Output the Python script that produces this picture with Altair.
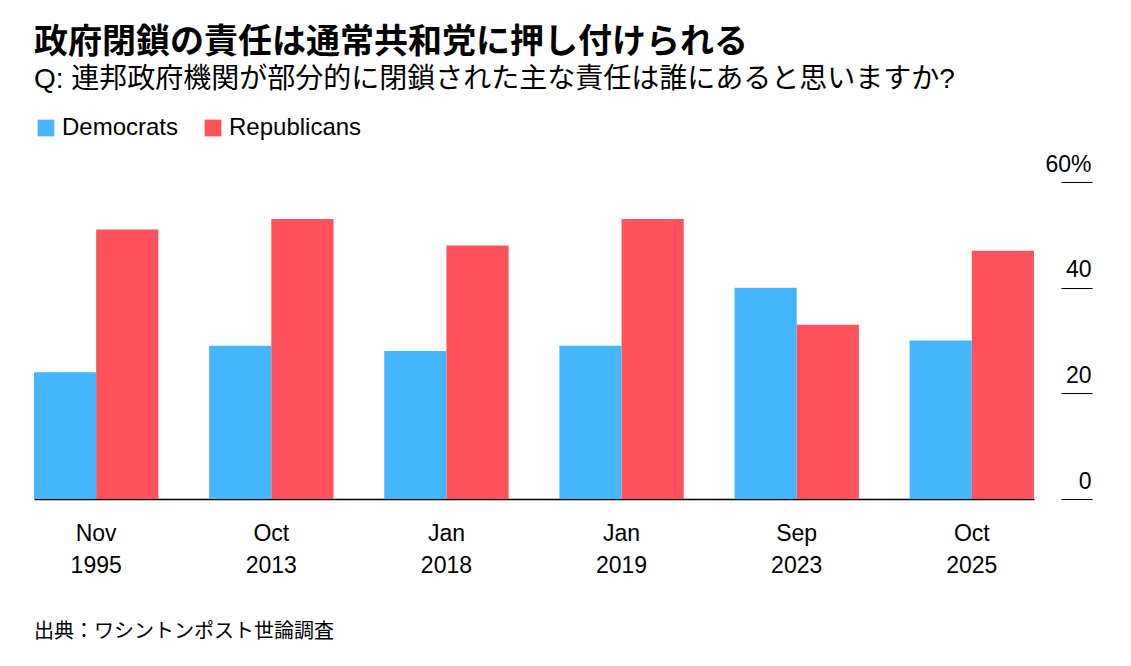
import pandas as pd
import altair as alt

periods = ["Nov 1995", "Oct 2013", "Jan 2018", "Jan 2019", "Sep 2023", "Oct 2025"]
democrats = [24, 29, 28, 29, 40, 30]
republicans = [51, 53, 48, 53, 33, 47]

df = pd.DataFrame({
    "period": periods * 2,
    "party": ["Democrats"] * 6 + ["Republicans"] * 6,
    "pct": democrats + republicans,
})

FONT = "Noto Sans CJK JP"
LATIN = "Liberation Sans, Noto Sans CJK JP"

bars = alt.Chart(df).mark_bar().encode(
    x=alt.X("period:N", sort=periods, title=None,
            scale=alt.Scale(paddingInner=0.29, paddingOuter=0),
            axis=alt.Axis(labelExpr="split(datum.label, ' ')", labelAngle=0,
                          labelFontSize=23, labelColor="#000", labelFont=LATIN,
                          domainColor="#000", domainWidth=1.5, ticks=False,
                          labelPadding=23, labelLineHeight=32)),
    xOffset=alt.XOffset("party:N"),
    y=alt.Y("pct:Q", title=None, scale=alt.Scale(domain=[0, 60]),
            axis=alt.Axis(orient="right", values=[0, 20, 40, 60], grid=False, domain=False,
                          offset=27, tickSize=31, tickColor="#000",
                          labelAlign="right", labelBaseline="bottom", labelPadding=-1,
                          labelOffset=-6, labelFontSize=23, labelColor="#000", labelFont=LATIN,
                          labelExpr="datum.value == 60 ? '60%' : datum.label")),
    color=alt.Color("party:N", title=None,
                    scale=alt.Scale(domain=["Democrats", "Republicans"], range=["#45b6fc", "#ff525d"]),
                    legend=alt.Legend(orient="none", legendX=0, legendY=-66, direction="horizontal",
                                      symbolType="square", symbolSize=280, symbolStrokeWidth=0,
                                      labelFontSize=24, labelColor="#000", labelFont=LATIN,
                                      columnPadding=22, symbolOffset=0)),
)

source = alt.Chart(pd.DataFrame({"t": ["出典：ワシントンポスト世論調査"]})).mark_text(
    align="left", baseline="middle", fontSize=20, font=FONT, color="#000"
).encode(text="t:N", x=alt.value(0), y=alt.value(450))

chart = (bars + source).properties(
    width=1000, height=317,
    title=alt.TitleParams(
        "政府閉鎖の責任は通常共和党に押し付けられる",
        subtitle="Q: 連邦政府機関が部分的に閉鎖された主な責任は誰にあると思いますか?",
        anchor="start", font=FONT, fontSize=34, fontWeight="bold", color="#000",
        subtitleFont=LATIN, subtitleFontSize=28, subtitleColor="#000", subtitlePadding=6,
        offset=22, dx=0,
    ),
    padding={"left": 25, "top": 18, "right": 10, "bottom": 14},
).configure_view(stroke=None)

chart.save("out.html", embed_options={"renderer": "svg", "actions": False})
